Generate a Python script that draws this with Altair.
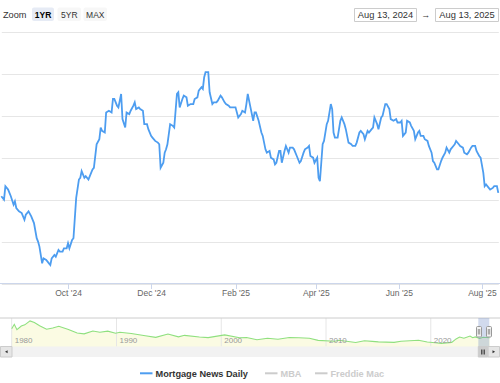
import altair as alt
import pandas as pd

# ---------------- data ----------------
mnd_dates = [
    "2024-08-13", "2024-08-15", "2024-08-16", "2024-08-18", "2024-08-20", "2024-08-22", "2024-08-23", "2024-08-24",
    "2024-08-26", "2024-08-28", "2024-08-30", "2024-08-31",
    "2024-09-02", "2024-09-04", "2024-09-06", "2024-09-08", "2024-09-09", "2024-09-10", "2024-09-12", "2024-09-13",
    "2024-09-15", "2024-09-17", "2024-09-18", "2024-09-19", "2024-09-21", "2024-09-22", "2024-09-24", "2024-09-25",
    "2024-09-27", "2024-09-28", "2024-09-30",
    "2024-10-01", "2024-10-02", "2024-10-04", "2024-10-05", "2024-10-07", "2024-10-09", "2024-10-10", "2024-10-11",
    "2024-10-13", "2024-10-14", "2024-10-16", "2024-10-17", "2024-10-19", "2024-10-20", "2024-10-22", "2024-10-24",
    "2024-10-25", "2024-10-26", "2024-10-28", "2024-10-29", "2024-10-31",
    "2024-11-02", "2024-11-03", "2024-11-04", "2024-11-06", "2024-11-07", "2024-11-09", "2024-11-10", "2024-11-12",
    "2024-11-13", "2024-11-15", "2024-11-16", "2024-11-18", "2024-11-19", "2024-11-20", "2024-11-22", "2024-11-23",
    "2024-11-25", "2024-11-26", "2024-11-28", "2024-11-29",
    "2024-12-01", "2024-12-02", "2024-12-04", "2024-12-06", "2024-12-07", "2024-12-08", "2024-12-10", "2024-12-11",
    "2024-12-12", "2024-12-13", "2024-12-15", "2024-12-17", "2024-12-18", "2024-12-20", "2024-12-21", "2024-12-22",
    "2024-12-24", "2024-12-25", "2024-12-27", "2024-12-28", "2024-12-30",
    "2025-01-01", "2025-01-02", "2025-01-04", "2025-01-05", "2025-01-07", "2025-01-08", "2025-01-09", "2025-01-10",
    "2025-01-12", "2025-01-13", "2025-01-15", "2025-01-16", "2025-01-18", "2025-01-19", "2025-01-21", "2025-01-22",
    "2025-01-24", "2025-01-25", "2025-01-27", "2025-01-28", "2025-01-30",
    "2025-02-01", "2025-02-03", "2025-02-05", "2025-02-06", "2025-02-08", "2025-02-09", "2025-02-10", "2025-02-12",
    "2025-02-14", "2025-02-15", "2025-02-16", "2025-02-18", "2025-02-20", "2025-02-21", "2025-02-23", "2025-02-24",
    "2025-02-26", "2025-02-27",
    "2025-03-01", "2025-03-02", "2025-03-03", "2025-03-05", "2025-03-06", "2025-03-07", "2025-03-09", "2025-03-10",
    "2025-03-12", "2025-03-13", "2025-03-15", "2025-03-16", "2025-03-18", "2025-03-20", "2025-03-21", "2025-03-23",
    "2025-03-24", "2025-03-26", "2025-03-27", "2025-03-28", "2025-03-30", "2025-03-31",
    "2025-04-02", "2025-04-03", "2025-04-04", "2025-04-06", "2025-04-07", "2025-04-09", "2025-04-10", "2025-04-12",
    "2025-04-13", "2025-04-14", "2025-04-15", "2025-04-17", "2025-04-19", "2025-04-20", "2025-04-22", "2025-04-23",
    "2025-04-25", "2025-04-27", "2025-04-28", "2025-04-30",
    "2025-05-01", "2025-05-03", "2025-05-04", "2025-05-06", "2025-05-07", "2025-05-09", "2025-05-10", "2025-05-12",
    "2025-05-13", "2025-05-14", "2025-05-16", "2025-05-17", "2025-05-19", "2025-05-20", "2025-05-22", "2025-05-23",
    "2025-05-25", "2025-05-26", "2025-05-28", "2025-05-30", "2025-05-31",
    "2025-06-02", "2025-06-03", "2025-06-04", "2025-06-06", "2025-06-07", "2025-06-09", "2025-06-10", "2025-06-12",
    "2025-06-13", "2025-06-15", "2025-06-16", "2025-06-17", "2025-06-19", "2025-06-20", "2025-06-22", "2025-06-23",
    "2025-06-25", "2025-06-26", "2025-06-27", "2025-06-29", "2025-06-30",
    "2025-07-02", "2025-07-03", "2025-07-05", "2025-07-06", "2025-07-08", "2025-07-09", "2025-07-11", "2025-07-12",
    "2025-07-13", "2025-07-15", "2025-07-16", "2025-07-18", "2025-07-19", "2025-07-21", "2025-07-22", "2025-07-24",
    "2025-07-25", "2025-07-27", "2025-07-28", "2025-07-30", "2025-07-31",
    "2025-08-02", "2025-08-03", "2025-08-04", "2025-08-06", "2025-08-07", "2025-08-09", "2025-08-10", "2025-08-12",
    "2025-08-13",
]
mnd_rates = [
    6.52, 6.50, 6.58, 6.56, 6.52, 6.47, 6.49, 6.45, 6.43, 6.42, 6.38, 6.41,
    6.43, 6.40, 6.36, 6.27, 6.25, 6.22, 6.12, 6.15, 6.14, 6.12, 6.11, 6.15, 6.17, 6.16, 6.20, 6.19, 6.19, 6.21, 6.21,
    6.24, 6.21, 6.26, 6.27, 6.51, 6.62, 6.63, 6.67, 6.63, 6.64, 6.62, 6.64, 6.68, 6.69, 6.83, 6.86, 6.93, 6.91, 6.90,
    7.02, 7.03,
    7.02, 7.10, 7.10, 7.06, 7.05, 7.13, 6.98, 6.93, 7.02, 7.01, 7.03, 7.06, 7.08, 7.04, 7.05, 7.04, 7.03, 6.95, 6.95,
    6.92,
    6.88, 6.87, 6.85, 6.84, 6.83, 6.69, 6.72, 6.78, 6.80, 6.83, 6.95, 6.94, 6.93, 7.13, 7.14, 7.05, 7.10, 7.12, 7.11,
    7.06, 7.07,
    7.07, 7.10, 7.11, 7.15, 7.17, 7.16, 7.23, 7.26, 7.26, 7.14, 7.07, 7.08, 7.08, 7.09, 7.12, 7.11, 7.08, 7.07, 7.06,
    7.05, 7.05,
    7.05, 6.99, 7.01, 7.03, 7.02, 7.07, 7.13, 7.05, 6.97, 7.02, 7.02, 6.97, 6.90, 6.88, 6.80, 6.78, 6.79, 6.75,
    6.74, 6.71, 6.72, 6.79, 6.79, 6.72, 6.79, 6.82, 6.78, 6.81, 6.81, 6.80, 6.76, 6.72, 6.73, 6.78, 6.80, 6.81, 6.82,
    6.76, 6.75, 6.72,
    6.75, 6.63, 6.61, 6.83, 6.85, 6.95, 6.97, 7.07, 7.04, 6.90, 6.87, 6.87, 6.97, 6.99, 6.95, 6.92, 6.84, 6.83, 6.82,
    6.82,
    6.84, 6.90, 6.91, 6.89, 6.86, 6.91, 6.90, 6.92, 6.93, 6.99, 6.95, 6.92, 6.99, 7.00, 7.07, 7.07, 7.04, 6.98, 6.97,
    6.98, 6.96,
    6.96, 6.97, 6.88, 6.90, 6.97, 6.96, 6.94, 6.91, 6.86, 6.90, 6.91, 6.88, 6.88, 6.86, 6.85, 6.82, 6.78, 6.73, 6.72,
    6.68, 6.68,
    6.73, 6.75, 6.78, 6.81, 6.78, 6.80, 6.82, 6.83, 6.85, 6.83, 6.82, 6.81, 6.78, 6.77, 6.78, 6.81, 6.82, 6.82, 6.79,
    6.76, 6.75,
    6.66, 6.58, 6.59, 6.57, 6.56, 6.57, 6.58, 6.58, 6.54,
]

# navigator series (long history)
nav_dates = [
    "1980-01-01", "1980-04-01", "1980-07-01", "1980-12-01", "1981-04-01", "1981-10-01", "1982-03-01", "1982-09-01",
    "1983-05-01", "1983-12-01", "1984-07-01", "1985-06-01", "1986-04-01", "1986-12-01", "1987-10-01", "1988-06-01",
    "1989-03-01", "1989-12-01", "1990-05-01", "1991-06-01", "1992-10-01", "1993-10-01", "1994-12-01", "1995-12-01",
    "1996-07-01", "1997-12-01", "1998-10-01", "2000-05-01", "2001-10-01", "2002-06-01", "2003-06-01", "2004-06-01",
    "2005-06-01", "2006-07-01", "2007-06-01", "2008-06-01", "2009-04-01", "2010-11-01", "2011-04-01", "2012-11-01",
    "2013-09-01", "2014-06-01", "2015-01-01", "2016-07-01", "2017-03-01", "2018-11-01", "2019-09-01", "2020-06-01",
    "2021-01-01", "2022-01-01", "2022-06-01", "2022-10-01", "2023-03-01", "2023-10-01", "2024-01-01", "2024-04-01",
    "2024-09-01", "2025-01-01", "2025-08-13",
]
nav_rates = [
    12.9, 16.0, 12.2, 14.8, 15.6, 18.4, 17.2, 15.0,
    12.6, 13.4, 14.6, 12.3, 9.9, 9.3, 11.3, 10.5,
    11.2, 9.8, 10.4, 9.6, 8.0, 6.9, 9.2, 7.2,
    8.3, 7.1, 6.7, 8.6, 6.6, 6.8, 5.2, 6.3,
    5.6, 6.8, 6.6, 6.3, 4.8, 4.2, 4.9, 3.3,
    4.5, 4.1, 3.7, 3.4, 4.2, 4.9, 3.6, 3.1,
    2.7, 3.4, 5.8, 7.1, 6.3, 7.8, 6.6, 7.2,
    6.1, 7.0, 6.6,
]

main_tick_dates = ["2024-10-01", "2024-12-01", "2025-02-01", "2025-04-01", "2025-06-01", "2025-08-01"]
rate_grid = [6.0, 6.25, 6.5, 6.75, 7.0, 7.25, 7.5]
nav_years = ["1980", "1990", "2000", "2010", "2020"]
zoom_buttons = ["1YR", "5YR", "MAX"]
range_labels = ["Aug 13, 2024", "Aug 13, 2025"]
legend_names = ["Mortgage News Daily", "MBA", "Freddie Mac"]

# ---------------- helpers ----------------
FONT = "Liberation Sans"
one = pd.DataFrame({"k": [0]})


def dt(s):
    y, m, d = (int(p) for p in s.split("-"))
    return alt.DateTime(year=y, month=m, date=d, utc=True)


def box(x, x2, y, y2, fill, stroke=None, radius=0, opacity=1.0):
    kw = dict(fill=fill, cornerRadius=radius, fillOpacity=opacity)
    if stroke:
        kw.update(stroke=stroke, strokeWidth=1)
    else:
        kw.update(strokeWidth=0)
    return alt.Chart(one).mark_rect(**kw).encode(
        x=alt.value(x), x2=alt.value(x2), y=alt.value(y), y2=alt.value(y2))


def label(text, x, y, size, color, weight="normal", align="left"):
    return alt.Chart(one).mark_text(
        text=text, align=align, baseline="middle", font=FONT, fontSize=size,
        color=color, fontWeight=weight).encode(x=alt.value(x), y=alt.value(y))


def hline(x, x2, y, color, width=1.0):
    return alt.Chart(one).mark_rule(color=color, strokeWidth=width).encode(
        x=alt.value(x), x2=alt.value(x2), y=alt.value(y))


def vline(x, y, y2, color, width=1.0):
    return alt.Chart(one).mark_rule(color=color, strokeWidth=width).encode(
        x=alt.value(x), y=alt.value(y), y2=alt.value(y2))


def tri(shape, x, y):
    return alt.Chart(one).mark_point(shape=shape, filled=True, size=9, color="#333333", opacity=1).encode(
        x=alt.value(x), y=alt.value(y))


# ---------------- main series ----------------
main_df = pd.DataFrame({"date": mnd_dates, "rate": mnd_rates})
main_line = alt.Chart(main_df).mark_line(color="#4d9df0", strokeWidth=1.8).encode(
    x=alt.X("date:T",
            scale=alt.Scale(type="utc", domain=[dt("2024-08-13"), dt("2025-08-13")], range=[1.3, 498.3]),
            axis=alt.Axis(orient="bottom", offset=-99.5, values=[dt(s) for s in main_tick_dates],
                          format="%b '%y", domain=False, grid=False, tickColor="#ccd6eb", tickSize=5,
                          labelColor="#666666", labelFont=FONT, labelFontSize=8.5, labelPadding=0,
                          labelFlush=False, title=None)),
    y=alt.Y("rate:Q",
            scale=alt.Scale(domain=[6.0, 7.5], range=[283.5, 31.9], nice=False, zero=False),
            axis=alt.Axis(orient="left", values=rate_grid, grid=True, gridColor="#e6e6e6", gridWidth=1,
                          labels=False, ticks=False, domain=False, title=None)),
)

# ---------------- navigator ----------------
nav_df = pd.DataFrame({"date": nav_dates, "rate": nav_rates})
nav_tick_df = pd.DataFrame({"tick": [f"{y}-01-01" for y in nav_years], "label": nav_years})
nav_x = alt.Scale(type="utc", domain=[dt("1980-01-01"), dt("2025-08-13")], range=[11.7, 489.6])
nav_y = alt.Scale(domain=[0.5, 20.4], range=[346.5, 318], nice=False, zero=False)

nav_area = alt.Chart(nav_df).mark_area(color="#fbfbe3", opacity=1).encode(
    x=alt.X("date:T", scale=nav_x, axis=None),
    y=alt.Y("rate:Q", scale=nav_y, axis=None),
    y2=alt.value(346.5))
nav_grid = alt.Chart(nav_tick_df).mark_rule(color="#e6e6e6", strokeWidth=1).encode(
    x=alt.X("tick:T", scale=nav_x, axis=None), y=alt.value(318), y2=alt.value(346.5))
nav_line = alt.Chart(nav_df).mark_line(color="#8fe07f", strokeWidth=1.1).encode(
    x=alt.X("date:T", scale=nav_x, axis=None),
    y=alt.Y("rate:Q", scale=nav_y, axis=None))
nav_text = alt.Chart(nav_tick_df).mark_text(
    align="left", dx=3, baseline="middle", font=FONT, fontSize=8, color="#999999").encode(
    x=alt.X("tick:T", scale=nav_x, axis=None), y=alt.value(341), text="label:N")
nav_group = alt.layer(nav_area, nav_grid, nav_line, nav_text)

# ---------------- chrome ----------------
header = [
    label("Zoom", 3, 14.5, 9.2, "#333333"),
    box(32, 54, 7.5, 21, "#e6ebf5", radius=2),
    label(zoom_buttons[0], 43, 14.5, 8.5, "#000000", weight="bold", align="center"),
    box(57.5, 81, 7.5, 21, "#f7f7f7", radius=2),
    label(zoom_buttons[1], 69.3, 14.5, 8.5, "#333333", align="center"),
    box(83.5, 107, 7.5, 21, "#f7f7f7", radius=2),
    label(zoom_buttons[2], 95.3, 14.5, 8.5, "#333333", align="center"),
    box(354.5, 416.5, 8.5, 21.5, "#ffffff", stroke="#cccccc"),
    label(range_labels[0], 385.5, 15, 9.3, "#333333", align="center"),
    label("\u2192", 425.8, 15, 9, "#333333", align="center"),
    box(435.5, 498.5, 8.5, 21.5, "#ffffff", stroke="#cccccc"),
    label(range_labels[1], 467, 15, 9.3, "#333333", align="center"),
]

axis_lines = [
    hline(0, 500, 283.5, "#ccd6eb"),
]

navigator_chrome = [
    hline(0, 500, 318, "#cccccc"),
    box(478.3, 489.3, 318, 346.5, "#6685c2", opacity=0.3),
    box(476.5, 481.5, 326.5, 337, "#f2f2f2", stroke="#999999", radius=1),
    vline(478.3, 329, 334.5, "#999999"),
    vline(479.7, 329, 334.5, "#999999"),
    box(486.5, 491.5, 326.5, 337, "#f2f2f2", stroke="#999999", radius=1),
    vline(488.3, 329, 334.5, "#999999"),
    vline(489.7, 329, 334.5, "#999999"),
]

scrollbar = [
    box(0, 500, 346.5, 357, "#f2f2f2"),
    box(0.5, 12, 346.5, 357, "#e6e6e6", stroke="#cccccc"),
    box(488, 499.5, 346.5, 357, "#e6e6e6", stroke="#cccccc"),
    tri("triangle-left", 6.3, 351.8),
    tri("triangle-right", 493.8, 351.8),
    box(478.3, 487.8, 346.5, 357, "#cccccc", stroke="#cccccc"),
    vline(481.5, 349.5, 354.5, "#333333", 0.8),
    vline(483.0, 349.5, 354.5, "#333333", 0.8),
    vline(484.5, 349.5, 354.5, "#333333", 0.8),
]

legend = [
    hline(140, 152.5, 373.3, "#4d9df0", 2),
    label(legend_names[0], 155.5, 373.5, 9.2, "#333333", weight="bold"),
    hline(265, 277.5, 373.3, "#cccccc", 2),
    label(legend_names[1], 280.5, 373.5, 9.2, "#cccccc", weight="bold"),
    hline(315, 327.5, 373.3, "#cccccc", 2),
    label(legend_names[2], 330.5, 373.5, 9.2, "#cccccc", weight="bold"),
]

chart = alt.layer(
    main_line, nav_group, *axis_lines, *navigator_chrome, *scrollbar, *header, *legend
).resolve_scale(
    x="independent", y="independent"
).properties(
    width=500, height=383, padding=0,
    autosize=alt.AutoSizeParams(type="none"),
    background="#ffffff",
).configure_view(stroke=None)

chart.save("out.html", embed_options={"renderer": "svg", "actions": False})
